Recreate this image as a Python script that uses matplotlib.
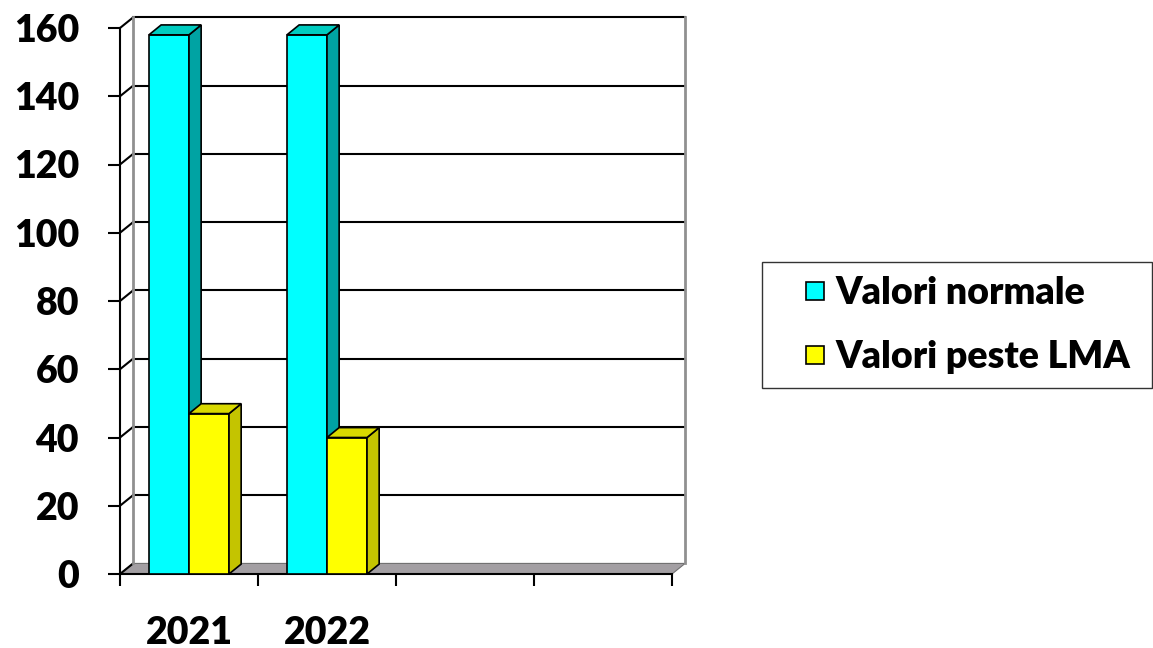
import numpy as np
import matplotlib
matplotlib.use('Agg')
import matplotlib.pyplot as plt
from matplotlib.patches import Polygon
from matplotlib.lines import Line2D

plt.rcParams['font.family'] = ['Lato', 'DejaVu Sans']
plt.rcParams['font.weight'] = 'heavy'

# data
years = ['2021', '2022']
n_slots = 4
normale = [158, 158]
peste = [47, 40]
series_names = ['Valori normale', 'Valori peste LMA']
yticks = np.arange(0, 161, 20)

# 3d look: depth offsets in data units
wall_dx, wall_dy = 0.095, 3.1
bar_dx, bar_dy = 0.088, 2.9
width = 0.29

W, H = 1153, 648
fig = plt.figure(figsize=(W / 100, H / 100), dpi=100)
ax = fig.add_axes([120 / W, 1 - 574 / H, 552 / W, 546 / H])
ax.set_xlim(0, n_slots)
ax.set_ylim(0, 160)
ax.patch.set_visible(False)

# floor
floor = Polygon([(0, 0), (n_slots, 0), (n_slots + wall_dx, wall_dy), (wall_dx, wall_dy)],
                closed=True, facecolor='#a39fa3', edgecolor='#707070', lw=0.8, clip_on=False, zorder=1)
ax.add_patch(floor)

# back wall gridlines and side wall diagonals
for v in yticks[1:]:
    ax.plot([wall_dx, n_slots + wall_dx], [v + wall_dy, v + wall_dy], color='black', lw=1.5,
            clip_on=False, zorder=1)
for v in yticks:
    ax.plot([0, wall_dx], [v, v + wall_dy], color='black', lw=1.5, clip_on=False, zorder=1)
ax.plot([wall_dx, wall_dx], [wall_dy, 160 + wall_dy], color='#909090', lw=2, clip_on=False, zorder=1)
ax.plot([n_slots + wall_dx] * 2, [wall_dy, 160 + wall_dy], color='#909090', lw=2, clip_on=False, zorder=1)


def bar3d(x0, h, front, side, top):
    ax.bar(x0, h, width=width, align='edge', color=front, edgecolor='black', lw=1.2, zorder=3)
    x1 = x0 + width
    ax.add_patch(Polygon([(x1, 0), (x1 + bar_dx, bar_dy), (x1 + bar_dx, h + bar_dy), (x1, h)],
                         closed=True, facecolor=side, edgecolor='black', lw=1.2, zorder=3, clip_on=False))
    ax.add_patch(Polygon([(x0, h), (x0 + bar_dx, h + bar_dy), (x1 + bar_dx, h + bar_dy), (x1, h)],
                         closed=True, facecolor=top, edgecolor='black', lw=1.2, zorder=3, clip_on=False))


for i in range(len(years)):
    c = i + 0.5
    bar3d(c - width, normale[i], '#00ffff', '#00a3a3', '#00ccc0')
    bar3d(c, peste[i], '#ffff00', '#c4c400', '#d9d900')

for s in ['top', 'right']:
    ax.spines[s].set_visible(False)
ax.spines['left'].set_linewidth(1.5)
ax.spines['bottom'].set_linewidth(1.5)

ax.set_yticks(yticks)
ax.tick_params(axis='y', direction='out', length=8.6, width=1.5, pad=21, labelsize=27)
ax.set_xticks(np.arange(n_slots + 1))
ax.set_xticklabels([])
ax.tick_params(axis='x', which='major', direction='out', length=8.6, width=1.5)
ax.set_xticks(np.arange(len(years)) + 0.5, minor=True)
ax.set_xticklabels(years, minor=True)
ax.tick_params(axis='x', which='minor', length=0, pad=30, labelsize=27)

handles = [Line2D([], [], ls='none', marker='s', markersize=13, markerfacecolor='#00ffff',
                  markeredgecolor='black', markeredgewidth=1.2),
           Line2D([], [], ls='none', marker='s', markersize=13, markerfacecolor='#ffff00',
                  markeredgecolor='black', markeredgewidth=1.2)]
leg = fig.legend(handles, series_names, loc='upper left',
                 bbox_to_anchor=(762 / W, 1 - 388 / H, 390 / W, 126 / H), mode='expand',
                 borderaxespad=0, frameon=True, fancybox=False, edgecolor='black',
                 handlelength=2.1, handletextpad=-0.5, labelspacing=0.8, borderpad=0.37,
                 prop={'size': 27, 'weight': 'heavy'})
leg.get_frame().set_linewidth(1.0)

fig.savefig('out.png', dpi=100)
